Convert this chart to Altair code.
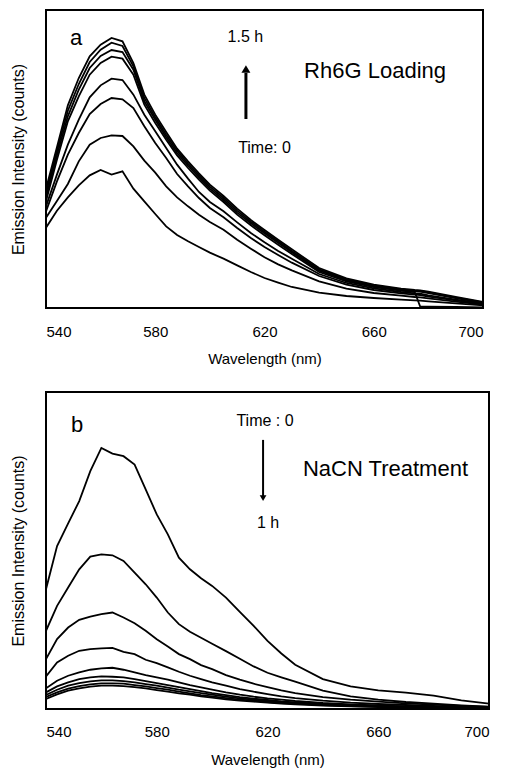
import altair as alt
import pandas as pd

FONT = "Liberation Sans"

# ---------------- Panel a: Rh6G loading (8 spectra, time 0 -> 1.5 h) ----------------
wl_a = [540, 544, 548, 552, 556, 560, 564, 568, 572, 576, 580, 584, 588, 592, 596, 600,
        605, 610, 615, 620, 625, 630, 640, 650, 660, 670, 675, 677, 680, 690, 700]
a1 = [241, 292, 332, 368, 398, 414, 400, 410, 358, 320, 282, 245, 219, 200, 183, 166,
      148, 128, 108, 90, 76, 63, 46, 36, 30, 25, 23, 22, 20, 14, 8]
a2 = [271, 321, 372, 440, 490, 510, 518, 516, 485, 442, 406, 365, 332, 305, 280, 258,
      235, 205, 178, 152, 131, 113, 80, 58, 45, 37, 33, 32, 29, 19, 10]
a3 = [290, 380, 460, 525, 582, 612, 630, 626, 600, 545, 495, 450, 402, 365, 330, 300,
      272, 240, 210, 183, 159, 136, 96, 70, 54, 44, 40, 39, 34, 23, 12]
a4 = [305, 400, 490, 565, 632, 668, 688, 684, 640, 580, 530, 480, 430, 388, 348, 318,
      290, 257, 225, 197, 171, 148, 102, 75, 59, 48, 44, 43, 38, 25, 14]
a5 = [320, 445, 560, 635, 700, 735, 754, 748, 700, 610, 555, 505, 458, 420, 385, 352,
      318, 280, 248, 218, 190, 162, 108, 80, 63, 52, 48, 4, 4, 3, 2]
a6 = [332, 458, 575, 655, 720, 756, 774, 768, 715, 620, 565, 512, 465, 427, 392, 358,
      324, 286, 254, 224, 196, 167, 112, 83, 66, 54, 50, 49, 45, 30, 16]
a7 = [345, 470, 592, 672, 738, 775, 796, 786, 725, 630, 572, 520, 472, 433, 398, 364,
      330, 292, 259, 229, 200, 171, 116, 86, 68, 56, 52, 51, 47, 31, 17]
a8 = [358, 482, 608, 690, 755, 790, 810, 800, 735, 640, 580, 528, 478, 440, 404, 370,
      336, 298, 264, 234, 205, 176, 120, 89, 70, 58, 54, 53, 49, 33, 18]
curves_a = {"a1": a1, "a2": a2, "a3": a3, "a4": a4, "a5": a5, "a6": a6, "a7": a7, "a8": a8}
ymax_a = 894

# ---------------- Panel b: NaCN treatment (9 spectra, time 0 -> 1 h) ----------------
wl_b = [540, 544, 548, 552, 556, 560, 564, 568, 572, 576, 580, 584, 588, 592, 596, 600,
        605, 610, 615, 620, 625, 630, 640, 650, 660, 670, 680, 690, 700]
bA = [360, 490, 558, 625, 715, 785, 768, 760, 735, 660, 585, 525, 455, 420, 393, 370,
      335, 292, 250, 205, 167, 133, 90, 68, 56, 49, 40, 26, 16]
bB = [235, 310, 365, 420, 458, 465, 462, 445, 410, 375, 335, 290, 255, 232, 214, 196,
      174, 151, 128, 109, 95, 82, 55, 38, 28, 21, 16, 11, 7]
bC = [150, 210, 245, 268, 278, 285, 290, 275, 258, 235, 210, 188, 165, 150, 132, 120,
      102, 88, 76, 66, 56, 48, 36, 28, 22, 17, 13, 9, 6]
bD = [98, 140, 160, 175, 180, 182, 184, 172, 165, 148, 138, 125, 112, 100, 90, 80,
      70, 60, 52, 45, 38, 33, 25, 19, 15, 12, 9, 6, 4]
bE = [62, 85, 100, 110, 118, 122, 124, 118, 110, 102, 95, 88, 80, 72, 65, 58,
      50, 43, 37, 32, 28, 24, 18, 14, 11, 8, 6, 4, 3]
bF = [50, 68, 80, 90, 95, 98, 97, 95, 90, 84, 78, 72, 66, 60, 54, 48,
      42, 36, 31, 27, 23, 20, 15, 12, 9, 7, 5, 4, 3]
bG = [42, 58, 70, 78, 83, 86, 86, 84, 80, 75, 70, 64, 58, 53, 48, 43,
      37, 32, 28, 24, 21, 18, 13, 10, 8, 6, 5, 4, 3]
bH = [36, 50, 61, 69, 74, 77, 77, 76, 72, 68, 63, 58, 52, 47, 42, 38,
      33, 28, 25, 21, 18, 16, 12, 9, 7, 5, 4, 3, 2]
bI = [30, 44, 55, 62, 67, 70, 70, 69, 66, 62, 57, 52, 47, 43, 38, 34,
      29, 25, 22, 19, 16, 14, 10, 8, 6, 5, 4, 3, 2]
curves_b = {"bA": bA, "bB": bB, "bC": bC, "bD": bD, "bE": bE, "bF": bF, "bG": bG, "bH": bH, "bI": bI}
ymax_b = 953

# ---------------- annotations (data coordinates) ----------------
ann_a_text = ["a", "1.5 h", "Time: 0", "Rh6G Loading"]
ann_a_wl = [551, 613, 620, 634.5]
ann_a_I = [810, 814, 480, 711]
ann_a_size = [22, 16, 16, 22]
ann_a_align = ["center", "center", "center", "left"]
arrow_a = {"wl": 613.2, "tail": 567, "head": 705, "tip_marker": 717}

ann_b_text = ["b", "Time : 0", "1 h", "NaCN Treatment"]
ann_b_wl = [551.2, 619.1, 620.2, 632.8]
ann_b_I = [854, 866, 559, 721]
ann_b_size = [22, 16, 16, 22]
ann_b_align = ["center", "center", "center", "left"]
arrow_b = {"wl": 618.4, "tail": 809, "head": 640, "tip_marker": 634}


def long_df(wl, curves):
    rows = []
    for name, vals in curves.items():
        for w, v in zip(wl, vals):
            rows.append({"wl": w, "I": v, "curve": name})
    return pd.DataFrame(rows)


def make_panel(wl, curves, ymax, width, height, txt, twl, tI, tsize, talign,
               arrow, arrow_w, arrow_shape, label_pad, title_pad):
    xs = alt.Scale(domain=[540, 700], nice=False, zero=False)
    ys = alt.Scale(domain=[0, ymax], nice=False, zero=True)
    xax = alt.Axis(values=[540, 580, 620, 660, 700], title="Wavelength (nm)", ticks=False,
                   domain=False, grid=False, labelPadding=label_pad, titlePadding=title_pad,
                   labelFontSize=15, titleFontSize=15, titleFontWeight="normal",
                   labelColor="black", titleColor="black", labelFont=FONT, titleFont=FONT)
    yax = alt.Axis(title="Emission Intensity (counts)", labels=False, ticks=False,
                   domain=False, grid=False, titlePadding=20, titleFontSize=16,
                   titleFontWeight="normal", titleColor="black", titleFont=FONT)
    df = long_df(wl, curves)
    lines = alt.Chart(df).mark_line(color="black", strokeWidth=1.8, clip=True).encode(
        x=alt.X("wl:Q", scale=xs, axis=xax),
        y=alt.Y("I:Q", scale=ys, axis=yax),
        detail="curve:N",
    )
    layers = [lines]
    for al in ["center", "left"]:
        sub = pd.DataFrame({"wl": twl, "I": tI, "t": txt, "s": tsize, "al": talign})
        sub = sub[sub["al"] == al]
        layers.append(alt.Chart(sub).mark_text(font=FONT, color="black", align=al,
                                               baseline="middle").encode(
            x=alt.X("wl:Q", scale=xs, axis=xax),
            y=alt.Y("I:Q", scale=ys, axis=yax),
            text="t:N",
            size=alt.Size("s:Q", scale=None, legend=None),
        ))
    adf = pd.DataFrame({"wl": [arrow["wl"]], "I": [arrow["tail"]], "I2": [arrow["head"]],
                        "tip": [arrow["tip_marker"]]})
    layers.append(alt.Chart(adf).mark_rule(color="black", strokeWidth=arrow_w).encode(
        x=alt.X("wl:Q", scale=xs, axis=xax),
        y=alt.Y("I:Q", scale=ys, axis=yax),
        y2="I2:Q",
    ))
    layers.append(alt.Chart(adf).mark_point(shape=arrow_shape, filled=True, color="black",
                                            opacity=1, size=80 if arrow_w > 2 else 45).encode(
        x=alt.X("wl:Q", scale=xs, axis=xax),
        y=alt.Y("tip:Q", scale=ys, axis=yax),
    ))
    return alt.layer(*layers).properties(width=width, height=height)


panel_a = make_panel(wl_a, curves_a, ymax_a, 437, 298, ann_a_text, ann_a_wl, ann_a_I,
                     ann_a_size, ann_a_align, arrow_a, 3, "triangle-up", 16, 12)
panel_b = make_panel(wl_b, curves_b, ymax_b, 443, 317, ann_b_text, ann_b_wl, ann_b_I,
                     ann_b_size, ann_b_align, arrow_b, 2, "triangle-down", 15, 13)

chart = alt.vconcat(panel_a, panel_b, spacing=24).properties(
    padding={"left": 1, "top": 1, "right": 5, "bottom": 5},
    background="white",
).configure_view(stroke="black", strokeWidth=2)

chart.save("out.html", embed_options={"renderer": "svg", "actions": False})
